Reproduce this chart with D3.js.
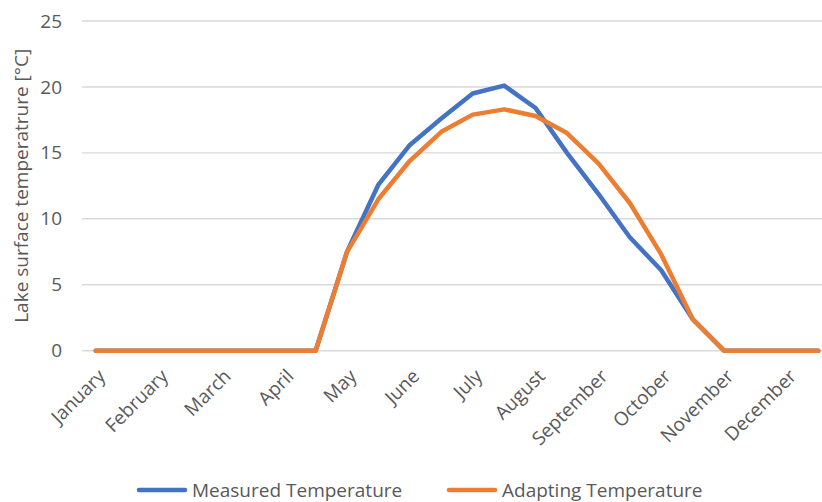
<!DOCTYPE html>
<html>
<head>
<meta charset="utf-8">
<script src="https://cdn.jsdelivr.net/npm/d3@7"></script>
<style>
    body { margin: 0; background: #fff; }
    svg { display: block; font-family: 'Open Sans', sans-serif; }
</style>
</head>
<body>
<svg width="822" height="502"></svg>
<script>
// Data: semi-monthly points, labels on every second point
const months = ['January', 'February', 'March', 'April', 'May', 'June', 'July',
    'August', 'September', 'October', 'November', 'December'];
const measured = [0, 0, 0, 0, 0, 0, 0, 0, 7.5, 12.6, 15.6, 17.6, 19.5, 20.1, 18.4, 15.0,
    11.9, 8.6, 6.1, 2.4, 0, 0, 0, 0];
const adapting = [0, 0, 0, 0, 0, 0, 0, 0, 7.5, 11.5, 14.4, 16.6, 17.9, 18.3, 17.8, 16.5,
    14.2, 11.2, 7.3, 2.4, 0, 0, 0, 0];
const yTicks = [0, 5, 10, 15, 20, 25];
const seriesNames = ['Measured Temperature', 'Adapting Temperature'];
const colors = ['#4472C4', '#ED7D31'];

const svg = d3.select('svg');
const textColor = '#595959';

// Scales
const x = d3.scaleBand().domain(d3.range(measured.length)).range([80, 834]);
const cx = (i) => x(i) + x.bandwidth() / 2;
const y = d3.scaleLinear().domain([0, 25]).range([350.7, 21]);

// Gridlines
svg.append('g')
    .attr('class', 'grid')
    .selectAll('line')
    .data(yTicks)
    .enter()
    .append('line')
    .attr('x1', 82)
    .attr('x2', 822)
    .attr('y1', (d) => y(d))
    .attr('y2', (d) => y(d))
    .attr('stroke', '#D9D9D9')
    .attr('stroke-width', 1.4);

// Y axis labels
const yAxis = svg.append('g')
    .attr('transform', 'translate(62,0)')
    .call(d3.axisLeft(y).tickValues(yTicks).tickSize(0).tickPadding(0));
yAxis.select('.domain').remove();
yAxis.selectAll('text')
    .attr('fill', textColor)
    .style('font-size', '19px')
    .style('font-family', "'Open Sans', sans-serif");

// X axis labels (every second category)
const xAxis = svg.append('g')
    .attr('transform', `translate(0,${y(0)})`)
    .call(
        d3.axisBottom(x)
            .tickValues(d3.range(0, measured.length, 2))
            .tickFormat((d) => months[d / 2])
            .tickSize(0)
    );
xAxis.select('.domain').remove();
xAxis.selectAll('text')
    .attr('fill', textColor)
    .style('font-size', '19px')
    .style('font-family', "'Open Sans', sans-serif")
    .attr('text-anchor', 'end')
    .attr('dy', '0.35em')
    .attr('transform', 'translate(6,22) rotate(-45)')
    .attr('y', 0);

// Y axis title
svg.append('text')
    .attr('transform', `translate(28,${(y(0) + y(25)) / 2}) rotate(-90)`)
    .attr('text-anchor', 'middle')
    .attr('fill', textColor)
    .style('font-size', '19px')
    .text('Lake surface temperatrure [°C]');

// Lines
const line = d3.line()
    .x((d, i) => cx(i))
    .y((d) => y(d));

svg.append('g')
    .attr('class', 'lines')
    .selectAll('path')
    .data([measured, adapting])
    .enter()
    .append('path')
    .attr('d', line)
    .attr('fill', 'none')
    .attr('stroke', (d, i) => colors[i])
    .attr('stroke-width', 4.5)
    .attr('stroke-linejoin', 'round')
    .attr('stroke-linecap', 'round');

// Legend
const legendX = [137, 447];
const legend = svg.append('g')
    .attr('class', 'legend')
    .selectAll('g')
    .data(seriesNames)
    .enter()
    .append('g')
    .attr('transform', (d, i) => `translate(${legendX[i]},490)`);
legend.append('line')
    .attr('x1', 2)
    .attr('x2', 48)
    .attr('stroke', (d, i) => colors[i])
    .attr('stroke-width', 4.5)
    .attr('stroke-linecap', 'round');
legend.append('text')
    .attr('x', 55)
    .attr('y', 6.5)
    .attr('fill', textColor)
    .style('font-size', '19px')
    .text((d) => d);
</script>
</body>
</html>
